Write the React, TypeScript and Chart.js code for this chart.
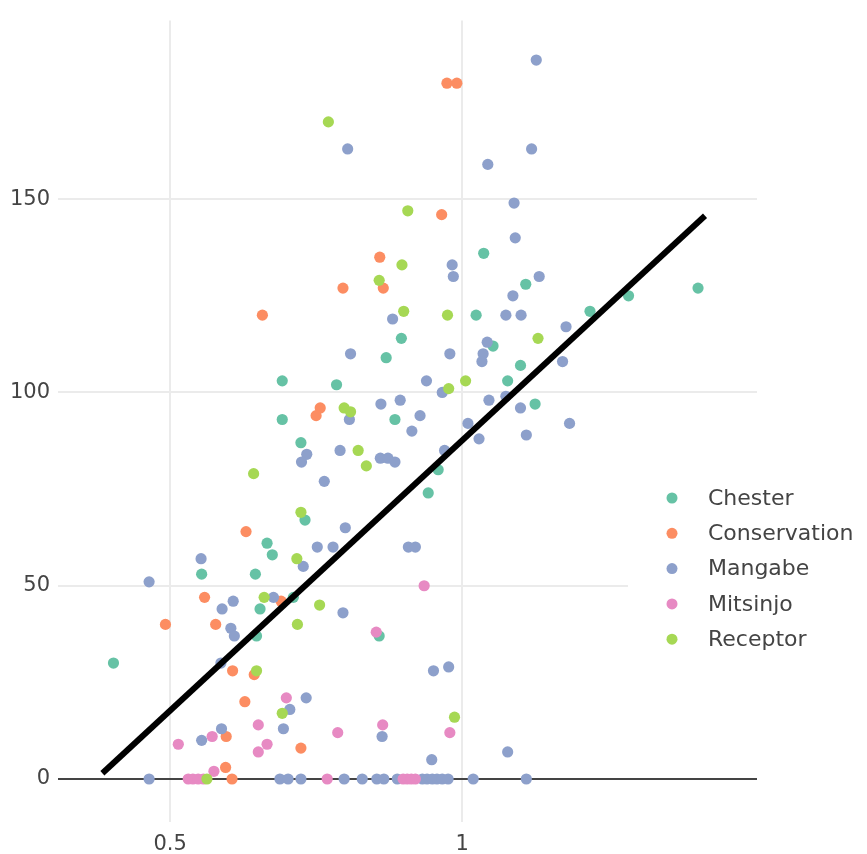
import React, { useEffect, useRef } from "react";
import { Chart, registerables } from "chart.js";

Chart.register(...registerables);

const seriesNames = ["Chester", "Conservation", "Mangabe", "Mitsinjo", "Receptor"];
const seriesColors = ["#66c2a5", "#fc8d62", "#8da0cb", "#e78ac3", "#a6d854"];

const chesterX = [1.037, 1.109, 1.285, 1.404, 0.692, 0.692, 0.666, 1.024, 0.896, 1.053, 0.870, 0.785, 1.078, 0.885, 0.724, 0.959, 0.942, 0.731, 1.219, 1.100, 1.125, 0.675, 0.554, 0.646, 0.654, 0.648, 0.403, 0.711, 0.858];
const chesterY = [136, 128, 125, 127, 103, 93, 61, 120, 114, 112, 109, 102, 103, 93, 87, 80, 74, 67, 121, 107, 97, 58, 53, 53, 44, 37, 30, 47, 37];

const conservationX = [0.974, 0.991, 0.965, 0.859, 0.796, 0.865, 0.658, 0.757, 0.750, 0.630, 0.559, 0.690, 0.492, 0.578, 0.607, 0.644, 0.628, 0.596, 0.595, 0.606, 0.724];
const conservationY = [180, 180, 146, 135, 127, 127, 120, 96, 94, 64, 47, 46, 40, 40, 28, 27, 20, 11, 3, 0, 8];

const mangabeX = [
  1.127, 0.804, 1.119, 1.044, 1.089, 1.091, 0.983, 0.985, 1.132, 1.087, 1.075, 1.101, 0.881, 1.178, 1.043, 0.809, 0.979,
  1.036, 1.034, 1.172, 0.939, 0.966, 1.075, 1.046, 0.894, 0.861, 1.100, 0.807, 0.928, 0.914, 1.010, 1.184, 1.029, 1.110,
  0.734, 0.725, 0.791, 0.860, 0.873, 0.885, 0.970, 0.764, 0.800, 0.752, 0.779, 0.908, 0.920, 0.553, 0.728, 0.464, 0.677,
  0.608, 0.589, 0.796, 0.604, 0.610, 0.587, 0.951, 0.977, 0.733, 0.705, 0.694, 0.588, 0.554, 0.863, 0.948, 1.078,
  0.464, 0.688, 0.702, 0.724, 0.798, 0.829, 0.854, 0.866, 0.889, 0.932, 0.940, 0.949, 0.957, 0.966, 0.976, 1.019, 1.110,
];
const mangabeY = [
  186, 163, 163, 159, 149, 140, 133, 130, 130, 125, 120, 120, 119, 117, 113, 110, 110,
  110, 108, 108, 103, 100, 99, 98, 98, 97, 96, 93, 94, 90, 92, 92, 88, 89,
  84, 82, 85, 83, 83, 82, 85, 77, 65, 60, 60, 60, 60, 57, 55, 51, 47,
  46, 44, 43, 39, 37, 30, 28, 29, 21, 18, 13, 13, 10, 11, 5, 7,
  0, 0, 0, 0, 0, 0, 0, 0, 0, 0, 0, 0, 0, 0, 0, 0, 0,
];

const mitsinjoX = [0.935, 0.853, 0.699, 0.651, 0.666, 0.651, 0.572, 0.514, 0.575, 0.864, 0.787, 0.979, 0.531, 0.539, 0.548, 0.557, 0.769, 0.899, 0.906, 0.913, 0.920];
const mitsinjoY = [50, 38, 21, 14, 9, 7, 11, 9, 2, 14, 12, 12, 0, 0, 0, 0, 0, 0, 0, 0, 0];

const receptorX = [0.771, 0.907, 0.897, 0.858, 0.900, 0.975, 0.977, 1.006, 0.798, 0.809, 0.822, 0.836, 0.724, 1.130, 0.643, 0.661, 0.648, 0.692, 0.717, 0.756, 0.718, 0.987, 0.563];
const receptorY = [170, 147, 133, 129, 121, 120, 101, 103, 96, 95, 85, 81, 69, 114, 79, 47, 28, 17, 57, 45, 40, 16, 0];

const fitX = [0.384, 1.416];
const fitY = [1.5, 145.7];

const xTicks = [0.5, 1];
const yTicks = [0, 50, 100, 150];

const seriesX = [chesterX, conservationX, mangabeX, mitsinjoX, receptorX];
const seriesY = [chesterY, conservationY, mangabeY, mitsinjoY, receptorY];

const FONT = '"DejaVu Sans", Verdana, sans-serif';

const legendPlugin = {
  id: "overlayLegend",
  afterDraw(chart: any) {
    const ctx = chart.ctx;
    ctx.save();
    ctx.fillStyle = "#ffffff";
    ctx.fillRect(628, 472, 239, 188);
    ctx.font = `22px ${FONT}`;
    ctx.textBaseline = "middle";
    ctx.textAlign = "left";
    seriesNames.forEach((name, i) => {
      const y = 498 + i * 35.3;
      ctx.beginPath();
      ctx.arc(672, y, 5.5, 0, Math.PI * 2);
      ctx.fillStyle = seriesColors[i];
      ctx.fill();
      ctx.fillStyle = "#444444";
      ctx.fillText(name, 708, y + 1);
    });
    ctx.restore();
  },
};

export default function App() {
  const canvasRef = useRef<HTMLCanvasElement | null>(null);

  useEffect(() => {
    document.body.style.margin = "0";
    const canvas = canvasRef.current;
    if (!canvas) return;

    const scatterSets = seriesNames.map((name, i) => ({
      type: "scatter" as const,
      label: name,
      data: seriesX[i].map((x, j) => ({ x, y: seriesY[i][j] })),
      backgroundColor: seriesColors[i],
      borderWidth: 0,
      pointRadius: 5.6,
      pointHoverRadius: 5.6,
      order: 5 - i,
    }));

    const chart = new Chart(canvas, {
      type: "scatter",
      data: {
        datasets: [
          {
            type: "line" as const,
            label: "fit",
            data: fitX.map((x, j) => ({ x, y: fitY[j] })),
            borderColor: "#000000",
            borderWidth: 6,
            pointRadius: 0,
            borderCapStyle: "butt",
            fill: false,
            order: 0,
          } as any,
          ...scatterSets,
        ],
      },
      options: {
        responsive: false,
        animation: false,
        layout: { padding: { left: 0, top: 4, right: 110, bottom: 0 } },
        plugins: {
          legend: { display: false },
          tooltip: { enabled: false },
        },
        scales: {
          x: {
            type: "linear",
            min: 0.308,
            max: 1.505,
            afterBuildTicks: (scale: any) => {
              scale.ticks = xTicks.map((v) => ({ value: v }));
            },
            afterFit: (scale: any) => {
              scale.height = 32;
            },
            grid: { color: "#ebebeb", lineWidth: 2, drawTicks: false },
            border: { display: false },
            ticks: {
              font: { family: FONT, size: 21 },
              color: "#444444",
              padding: 10,
              maxRotation: 0,
              callback: (v: any) => String(v),
            },
          },
          y: {
            type: "linear",
            min: -11.12,
            max: 196.2,
            afterBuildTicks: (scale: any) => {
              scale.ticks = yTicks.map((v) => ({ value: v }));
            },
            afterFit: (scale: any) => {
              scale.width = 58;
            },
            grid: {
              color: (c: any) => (c.tick && c.tick.value === 0 ? "#444444" : "#ebebeb"),
              lineWidth: 2,
              drawTicks: false,
            },
            border: { display: false },
            ticks: {
              font: { family: FONT, size: 21 },
              color: "#444444",
              padding: 8,
              callback: (v: any) => String(v),
            },
          },
        },
      },
      plugins: [legendPlugin],
    });

    return () => chart.destroy();
  }, []);

  return (
    <div style={{ position: "absolute", left: 0, top: 0, width: 867, height: 854, background: "#fff" }}>
      <canvas ref={canvasRef} width={867} height={854} style={{ width: 867, height: 854 }} />
    </div>
  );
}
